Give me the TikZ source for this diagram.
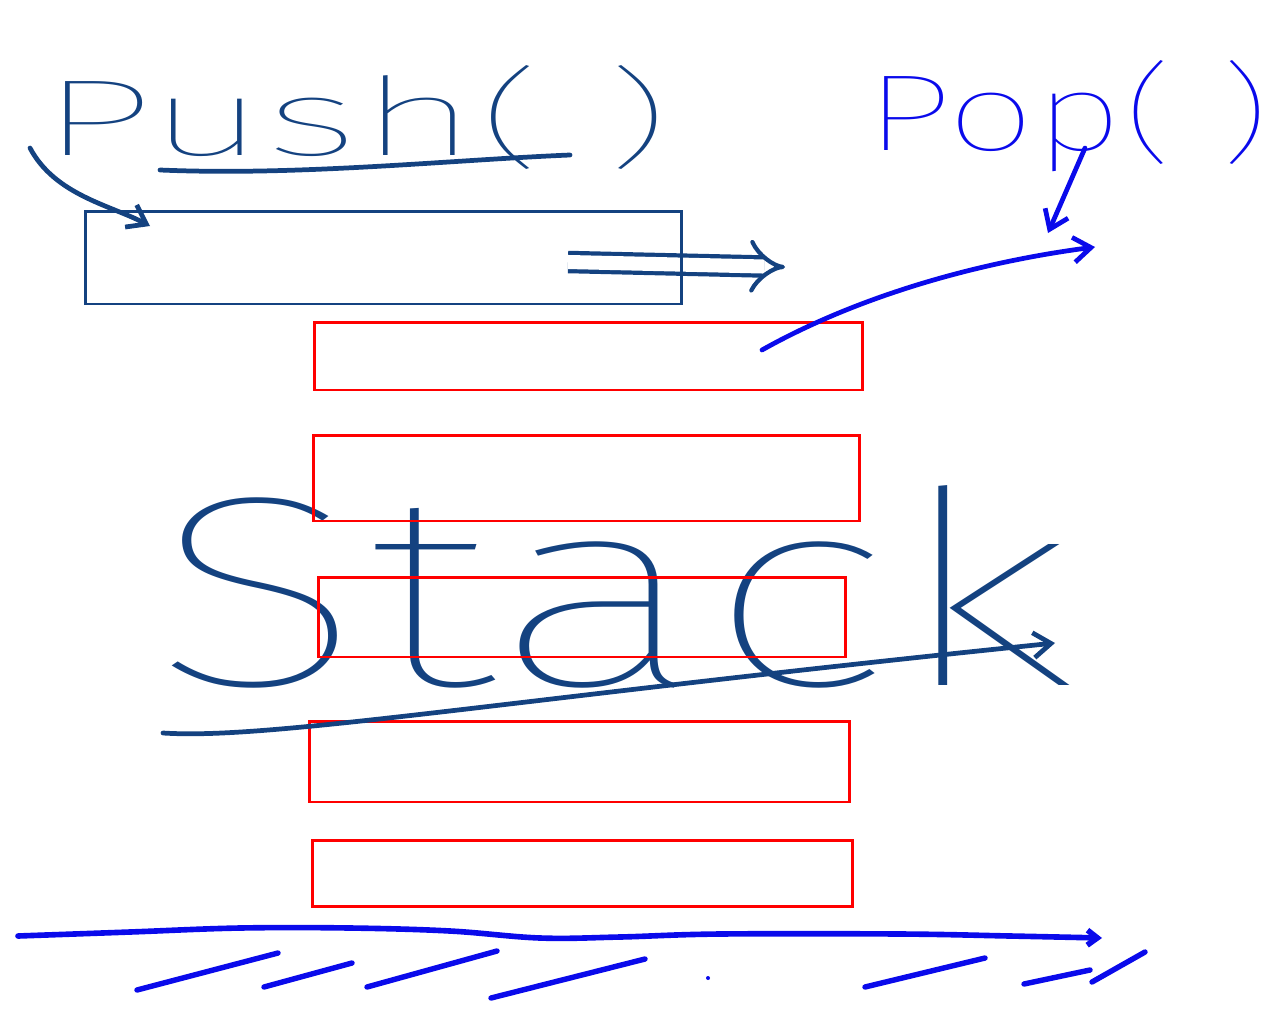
\documentclass[tikz,border=0pt]{standalone}
\usepackage{graphicx}
\usepackage{fontspec}
\newfontfamily\handfont{Fira Sans}[UprightFont=* Thin]
\usetikzlibrary{arrows.meta}
\definecolor{inkdark}{RGB}{20,66,128}
\definecolor{inkblue}{RGB}{10,10,235}
\definecolor{boxred}{RGB}{255,0,0}

\begin{document}
\begin{tikzpicture}[
  x=0.02cm, y=-0.02cm,
  slot/.style n args={2}{draw=boxred, line width=1.7pt, minimum width=#1, minimum height=#2, inner sep=0pt},
  topslot/.style n args={2}{draw=inkdark, line width=1.7pt, minimum width=#1, minimum height=#2, inner sep=0pt},
  ink/.style={line width=2.7pt, line cap=round, line join=round},
  barb/.style={-{Straight Barb[length=3.5mm, width=5mm]}},
  hatch/.style={ink, inkblue, line width=3.1pt},
  word/.style={inner sep=0pt, anchor=base west, font=\handfont}
]
  \useasboundingbox (0,0) rectangle (1280,1024);

  % labels
  \node[word, text=inkdark] (push) at (40,155) {\resizebox{12.6cm}{1.8cm}{Push( )}};
  \node[word, text=inkblue] (pop) at (865,150) {\resizebox{8.1cm}{1.8cm}{Pop( )}};
  \node[word, text=inkdark] (stack) at (150,685) {\resizebox{18.5cm}{4cm}{Stack}};

  % push
  \coordinate (pushtail) at (30,148);
  \coordinate (pushin) at (150,226);
  \coordinate (slide) at (568,262);
  \coordinate (pushout) at (785,267);
  \draw[ink, inkdark, barb] (pushtail) .. controls (55,195) and (110,205) .. (pushin);
  \draw[inkdark, line width=2.4pt, double, double distance=8pt, -{Implies}] (slide) -- (pushout);
  \node[topslot={11.94cm}{1.86cm}] (top) at (383.5,257.5) {};
  \draw[ink, inkdark] (160,170) .. controls (300,176) and (450,160) .. (570,155);

  % stack
  \node[slot={10.98cm}{1.36cm}] (s1) at (588.5,356) {};
  \node[slot={10.94cm}{1.72cm}] (s2) at (586.5,478) {};
  \node[slot={10.56cm}{1.6cm}] (s3) at (582,617) {};
  \node[slot={10.82cm}{1.62cm}] (s4) at (579.5,761.5) {};
  \node[slot={10.82cm}{1.32cm}] (s5) at (582.5,873) {};
  \draw[ink, inkdark, barb] (163,733) .. controls (270,740) and (500,700) .. (1055,643);

  % pop
  \coordinate (popstem) at (1085,148);
  \coordinate (popdown) at (1048,233);
  \coordinate (popin) at (762,350);
  \coordinate (popout) at (1095,247);
  \draw[ink, inkblue, barb] (popstem) -- (popdown);
  \draw[ink, inkblue, barb] (popin) .. controls (860,295) and (980,262) .. (popout);

  % ground
  \coordinate (gl) at (18,936);
  \coordinate (gr) at (1102,938);
  \draw[ink, inkblue, line width=3.2pt, -{Straight Barb[length=2mm, width=3mm]}]
    plot[smooth, tension=0.6] coordinates {(gl) (130,932) (240,928) (350,928) (450,931) (540,938) (620,937) (720,934) (900,934) (1010,936) (gr)};
  \foreach \xa/\ya/\xb/\yb in {137/990/278/953, 264/987/352/963, 367/987/497/951, 491/998/645/959, 865/987/985/958, 1024/984/1090/970, 1092/982/1145/952}
    \draw[hatch] (\xa,\ya) -- (\xb,\yb);
  \fill[inkblue] (708,978) circle (2);
\end{tikzpicture}
\end{document}
